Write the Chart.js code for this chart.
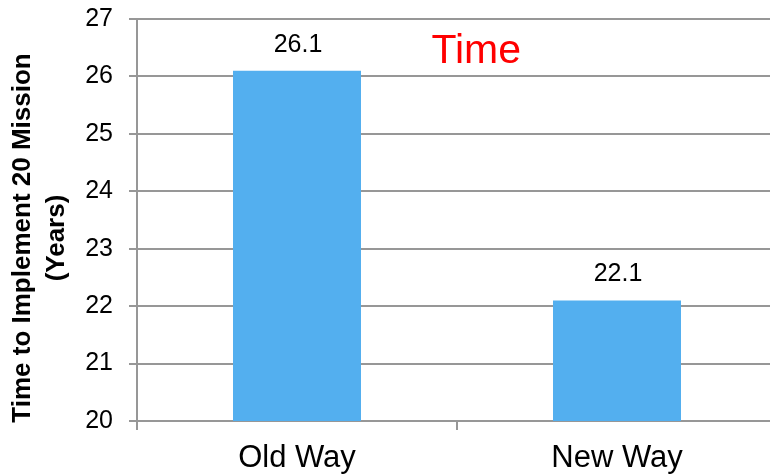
<!DOCTYPE html>
<html>
<head>
<meta charset="utf-8">
<script src="https://cdn.jsdelivr.net/npm/chart.js@4/dist/chart.umd.min.js"></script>
<style>
  html, body { margin: 0; padding: 0; overflow: hidden; background: #fff; }
  #wrap { width: 777px; height: 476px; }
</style>
</head>
<body>
<div id="wrap"><canvas id="chart" width="777" height="476"></canvas></div>
<script>
// Chart data
const categories = ['Old Way', 'New Way'];
const yearsToImplement = [26.1, 22.1];
const yAxisTitle = ['Time to Implement 20 Mission', '(Years)'];
const chartTitle = 'Time';
const yMin = 20;
const yMax = 27;
const yStep = 1;

const FONT = "'Liberation Sans', Arial, Helvetica, sans-serif";
const GRID = '#979797';
const BAR = '#53AFEF';

// Value labels above each bar, the in-plot heading and the rotated axis title
const annotations = {
  id: 'annotations',
  afterDatasetsDraw(chart) {
    const ctx = chart.ctx;
    const area = chart.chartArea;
    ctx.save();

    // values above bars
    const meta = chart.getDatasetMeta(0);
    ctx.fillStyle = '#000';
    ctx.font = '25px ' + FONT;
    ctx.textAlign = 'center';
    ctx.textBaseline = 'alphabetic';
    meta.data.forEach((bar, i) => {
      const v = chart.data.datasets[0].data[i];
      ctx.fillText(v.toFixed(1), bar.x + 1, bar.y - 19);
    });

    // heading inside the plot
    ctx.fillStyle = '#ff0000';
    ctx.font = '41px ' + FONT;
    ctx.textAlign = 'center';
    ctx.fillText(chartTitle, area.left + (area.right - area.left) * 0.53, area.top + 44);

    // y-axis title, two rotated lines
    ctx.fillStyle = '#000';
    ctx.font = 'bold 26px ' + FONT;
    ctx.textAlign = 'center';
    ctx.textBaseline = 'middle';
    const cy = (area.top + area.bottom) / 2 + 18;
    const xs = [area.left - 114, area.left - 80];
    yAxisTitle.forEach((line, i) => {
      ctx.save();
      ctx.translate(xs[i], cy);
      ctx.rotate(-Math.PI / 2);
      ctx.fillText(line, 0, 0);
      ctx.restore();
    });
    ctx.restore();
  }
};

new Chart(document.getElementById('chart'), {
  type: 'bar',
  data: {
    labels: categories,
    datasets: [{
      data: yearsToImplement,
      backgroundColor: BAR,
      borderWidth: 0,
      barPercentage: 0.4,
      categoryPercentage: 1.0
    }]
  },
  options: {
    responsive: false,
    animation: false,
    layout: { padding: { left: 85, top: 19, right: 0, bottom: 0 } },
    plugins: {
      legend: { display: false },
      tooltip: { enabled: false },
      title: { display: false }
    },
    scales: {
      x: {
        afterFit(scale) {
          scale.height = 55;
          scale.paddingLeft = 0;
          scale.paddingRight = 0;
        },
        grid: {
          display: true,
          drawOnChartArea: false,
          drawTicks: true,
          tickLength: 9,
          color: GRID,
          lineWidth: 2
        },
        border: { display: true, color: GRID, width: 2 },
        ticks: {
          color: '#000',
          font: { family: FONT, size: 31 },
          padding: 10
        }
      },
      y: {
        min: yMin,
        max: yMax,
        afterFit(scale) {
          scale.width = 52;
          scale.paddingTop = 0;
          scale.paddingBottom = 0;
        },
        grid: {
          color: GRID,
          lineWidth: 2,
          tickLength: 8
        },
        border: { display: true, color: GRID, width: 2 },
        ticks: {
          stepSize: yStep,
          color: '#000',
          font: { family: FONT, size: 25 },
          padding: 16
        }
      }
    }
  },
  plugins: [annotations]
});
</script>
</body>
</html>
